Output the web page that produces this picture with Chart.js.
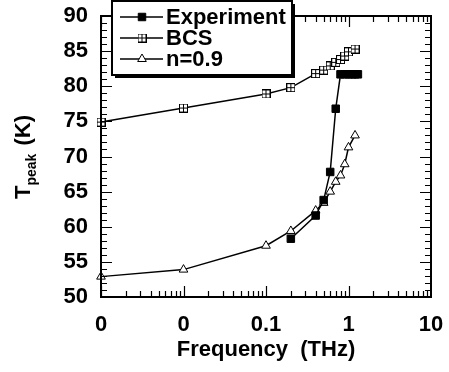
<!DOCTYPE html>
<html>
<head>
<meta charset="utf-8">
<script src="https://cdn.jsdelivr.net/npm/chart.js@4.4.1/dist/chart.umd.min.js"></script>
<style>
  html, body { margin: 0; padding: 0; background: #fff; }
</style>
</head>
<body>
<canvas id="chart" width="449" height="372"></canvas>
<script>
// data
const expFreq = [0.2, 0.4, 0.5, 0.6, 0.7, 0.8, 0.9, 1.0, 1.1, 1.2, 1.3];
const expTpeak = [58.3, 61.6, 63.8, 67.8, 76.8, 81.7, 81.7, 81.7, 81.7, 81.7, 81.7];
const bcsFreq = [0.001, 0.01, 0.1, 0.2, 0.4, 0.5, 0.6, 0.7, 0.8, 0.9, 1.0, 1.2];
const bcsTpeak = [74.9, 76.9, 78.9, 79.8, 81.8, 82.3, 82.9, 83.4, 83.8, 84.3, 84.9, 85.3];
const n09Freq = [0.001, 0.01, 0.1, 0.2, 0.4, 0.5, 0.6, 0.7, 0.8, 0.9, 1.0, 1.2];
const n09Tpeak = [52.9, 53.9, 57.3, 59.4, 62.3, 63.4, 65.0, 66.4, 67.3, 68.9, 71.3, 73.0];
const xTickValues = [0.001, 0.01, 0.1, 1, 10];
const xTickLabels = ['0', '0', '0.1', '1', '10'];
const yMin = 50, yMax = 90, yStep = 5;

const FONT = 'Liberation Sans, Arial, Helvetica, sans-serif';
// wanted plot box
const AREA = { left: 101, right: 431, top: 16, bottom: 297 };

function toPoints(xs, ys) {
  return xs.map((x, i) => ({ x: x, y: ys[i] }));
}

// square with a cross inside, for the BCS series
function crossSquare(size) {
  const c = document.createElement('canvas');
  c.width = size; c.height = size;
  const g = c.getContext('2d');
  g.fillStyle = '#fff';
  g.fillRect(0, 0, size, size);
  g.strokeStyle = '#000';
  g.lineWidth = 1;
  g.strokeRect(0.5, 0.5, size - 1, size - 1);
  g.beginPath();
  g.moveTo(size / 2, 0); g.lineTo(size / 2, size);
  g.moveTo(0, size / 2); g.lineTo(size, size / 2);
  g.stroke();
  return c;
}
const bcsMarker = crossSquare(9);

// frame, inward ticks, y title and boxed legend
const framePlugin = {
  id: 'frame',
  afterDatasetsDraw(chart) {
    const ctx = chart.ctx;
    const a = chart.chartArea;
    const xs = chart.scales.x, ys = chart.scales.y;
    ctx.save();
    ctx.strokeStyle = '#000';
    ctx.lineWidth = 1.2;
    ctx.beginPath();
    // x ticks: decades long, 2..9 short
    for (let d = 0.001; d < 10; d *= 10) {
      for (let k = 1; k <= 9; k++) {
        const px = Math.round(xs.getPixelForValue(k * d)) + 0.5;
        const len = k === 1 ? 11 : 6;
        ctx.moveTo(px, a.bottom); ctx.lineTo(px, a.bottom - len);
        ctx.moveTo(px, a.top); ctx.lineTo(px, a.top + len);
      }
    }
    for (let v = yMin; v <= yMax; v++) {
      const py = Math.round(ys.getPixelForValue(v)) + 0.5;
      const len = v % yStep === 0 ? 11 : 6;
      ctx.moveTo(a.left, py); ctx.lineTo(a.left + len, py);
      ctx.moveTo(a.right, py); ctx.lineTo(a.right - len, py);
    }
    ctx.stroke();
    ctx.lineWidth = 2;
    ctx.strokeRect(a.left, a.top, a.right - a.left, a.bottom - a.top);

    // y axis title: T_peak (K)
    ctx.fillStyle = '#000';
    ctx.translate(30, 157);
    ctx.rotate(-Math.PI / 2);
    ctx.textBaseline = 'alphabetic';
    ctx.font = 'bold 22px ' + FONT;
    const wT = ctx.measureText('T').width;
    ctx.font = 'bold 14px ' + FONT;
    const wP = ctx.measureText('peak').width;
    ctx.font = 'bold 22px ' + FONT;
    const wK = ctx.measureText(' (K)').width;
    let x0 = -(wT + wP + 2 + wK) / 2;
    ctx.fillText('T', x0, 0);
    ctx.font = 'bold 14px ' + FONT;
    ctx.fillText('peak', x0 + wT, 6);
    ctx.font = 'bold 22px ' + FONT;
    ctx.fillText(' (K)', x0 + wT + wP + 2, 0);
    ctx.restore();

    // legend box
    ctx.save();
    const bx = 112, by = 1, bw = 180, bh = 74;
    ctx.fillStyle = '#000';
    ctx.fillRect(bx + 3, by + 3, bw, bh);
    ctx.fillStyle = '#fff';
    ctx.fillRect(bx, by, bw, bh);
    ctx.strokeStyle = '#000';
    ctx.lineWidth = 2;
    ctx.strokeRect(bx, by, bw, bh);
    const rows = [17, 38, 59];
    chart.data.datasets.forEach((ds, i) => {
      const y = rows[i];
      ctx.strokeStyle = '#000';
      ctx.lineWidth = 1.5;
      ctx.beginPath();
      ctx.moveTo(120, y); ctx.lineTo(163, y);
      ctx.stroke();
      ctx.fillStyle = ds.pointBackgroundColor;
      ctx.strokeStyle = '#000';
      ctx.lineWidth = 1;
      Chart.helpers.drawPoint(ctx, {
        pointStyle: ds.pointStyle,
        radius: ds.pointRadius,
        borderWidth: 1
      }, 142, y);
      ctx.fillStyle = '#000';
      ctx.font = 'bold 22px ' + FONT;
      ctx.textBaseline = 'middle';
      ctx.fillText(ds.label, 166, y + 1);
    });
    ctx.restore();
  }
};

function noOverflow(s) {
  s.paddingTop = 0; s.paddingBottom = 0;
  s.paddingLeft = 0; s.paddingRight = 0;
}

const chart = new Chart(document.getElementById('chart').getContext('2d'), {
  type: 'scatter',
  data: {
    datasets: [
      {
        label: 'Experiment',
        data: toPoints(expFreq, expTpeak),
        showLine: true,
        borderColor: '#000',
        borderWidth: 1.5,
        pointStyle: 'rect',
        pointRadius: 5.3,
        pointBackgroundColor: '#000',
        pointBorderColor: '#000',
        pointBorderWidth: 1,
        clip: false
      },
      {
        label: 'BCS',
        data: toPoints(bcsFreq, bcsTpeak),
        showLine: true,
        borderColor: '#000',
        borderWidth: 1.5,
        pointStyle: bcsMarker,
        pointRadius: 5,
        pointBackgroundColor: '#fff',
        pointBorderColor: '#000',
        clip: false
      },
      {
        label: 'n=0.9',
        data: toPoints(n09Freq, n09Tpeak),
        showLine: true,
        borderColor: '#000',
        borderWidth: 1.5,
        pointStyle: 'triangle',
        pointRadius: 5,
        pointBackgroundColor: '#fff',
        pointBorderColor: '#000',
        pointBorderWidth: 1,
        clip: false
      }
    ]
  },
  options: {
    responsive: false,
    animation: false,
    layout: { padding: { top: 16, right: 18, left: 0, bottom: 0 } },
    plugins: { legend: { display: false }, tooltip: { enabled: false } },
    scales: {
      x: {
        type: 'logarithmic',
        min: 0.001,
        max: 10,
        afterBuildTicks: s => { s.ticks = xTickValues.map(v => ({ value: v })); },
        afterFit: s => { s.height = 75; noOverflow(s); },
        grid: { display: false, drawTicks: false },
        border: { display: false },
        ticks: {
          autoSkip: false,
          maxRotation: 0,
          padding: 15,
          color: '#000',
          font: { family: FONT, size: 22, weight: 'bold' },
          callback: (v, i) => xTickLabels[i]
        },
        title: {
          display: true,
          text: 'Frequency  (THz)',
          color: '#000',
          padding: { top: 0, bottom: 9 },
          font: { family: FONT, size: 22, weight: 'bold' }
        }
      },
      y: {
        min: yMin,
        max: yMax,
        afterFit: s => { s.width = 101; noOverflow(s); },
        grid: { display: false, drawTicks: false },
        border: { display: false },
        ticks: {
          stepSize: yStep,
          padding: 13,
          color: '#000',
          font: { family: FONT, size: 22, weight: 'bold' }
        }
      }
    }
  },
  plugins: [framePlugin]
});

// nudge the layout padding so the plot box lands where the figure has it
for (let pass = 0; pass < 3; pass++) {
  const a = chart.chartArea;
  const p = chart.options.layout.padding;
  const dt = a.top - AREA.top, dr = AREA.right - a.right;
  if (Math.abs(dt) < 0.5 && Math.abs(dr) < 0.5) break;
  p.top -= dt;
  p.right -= dr;
  chart.update();
}
</script>
</body>
</html>
